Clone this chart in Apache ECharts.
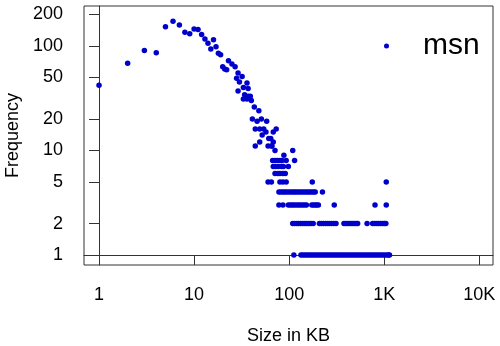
<!DOCTYPE html>
<html>
<head>
<meta charset="utf-8">
<script src="https://cdn.jsdelivr.net/npm/echarts/dist/echarts.min.js"></script>
<style>
  html, body { margin: 0; padding: 0; background: #fff; }
  #chart { width: 500px; height: 346px; }
</style>
</head>
<body>
<div id="chart"></div>
<script>
// file sizes (KB) with higher counts, and their counts
const headSize = [1, 2, 3, 4, 5, 6, 7, 8, 9, 10, 11, 12, 13, 14, 15, 16, 17, 18, 19, 20,
  21, 22, 23, 25, 27, 28, 29, 30, 32, 33, 34, 36, 37, 29, 33, 36, 37, 39, 40, 43,
  48, 41, 46, 51, 58, 44, 49, 54, 73, 57, 68, 52, 61, 64, 68, 44, 49, 60, 65, 66,
  71, 109, 88];
const headFreq = [42, 68, 90, 86, 152, 172, 158, 135, 130, 145, 143, 128, 116, 106, 93, 114, 98, 85, 82, 63,
  60, 59, 72, 67, 63, 49, 55, 45, 51, 40, 34, 44, 39, 37, 31, 31, 33, 33, 30, 26,
  24, 20, 19, 20, 19, 16, 16, 16, 16, 15, 15, 14, 13, 13, 12, 11, 12, 11, 11, 11,
  10, 10, 9];

// sizes (KB) seen a small number of times
const sizesFreq8 = [67, 71, 75, 80, 84, 93, 114];
const sizesFreq7 = [68, 72, 77, 83, 87, 98];
const sizesFreq6 = [71, 76, 80, 86, 91];
const sizesFreq5 = [60, 65, 80, 86, 93, 175, 1050];
const sizesFreq4 = [78, 82, 86, 90, 94, 99, 104, 109, 114, 119, 125, 131, 137, 144, 151, 158, 165, 173, 181, 188, 224];
const sizesFreq3 = [78, 86, 98, 103, 108, 113, 119, 125, 131, 138, 145, 152, 173, 180, 188, 195, 203, 298, 800, 1050];
const sizesFreq2 = [109, 114, 120, 126, 132, 139, 146, 153, 161, 170, 179,
  208, 218, 229, 241, 253, 266, 280, 295, 311,
  377, 396, 416, 437, 459, 482, 505, 525, 660,
  755, 793, 833, 875, 919, 966, 1005, 1040];
const sizesFreq1 = [112, 133, 139, 146, 153, 161, 169, 177, 186, 195, 205, 215, 226, 237, 249, 261,
  274, 288, 302, 317, 333, 350, 367, 385, 404, 424, 445, 467, 490, 515, 540, 567, 595,
  625, 656, 689, 723, 759, 797, 837, 879, 923, 969, 1017, 1068, 1110, 1135];

const xTicks = [1, 10, 100, 1000, 10000];
const yTicks = [1, 2, 5, 10, 20, 50, 100, 200];
const xRange = [0.695, 13930];
const yRange = [0.803, 240];

// both axes are drawn in log10 units
const lg = Math.log10;
const points = [];
headSize.forEach((s, i) => points.push([lg(s), lg(headFreq[i])]));
[[8, sizesFreq8], [7, sizesFreq7], [6, sizesFreq6], [5, sizesFreq5],
 [4, sizesFreq4], [3, sizesFreq3], [2, sizesFreq2], [1, sizesFreq1]].forEach(([f, arr]) => {
  arr.forEach(s => points.push([lg(s), lg(f)]));
});

function fmt(v) {
  const n = Math.round(Math.pow(10, v));
  return n >= 1000 ? (n / 1000) + 'K' : String(n);
}

const chart = echarts.init(document.getElementById('chart'));
const font = 'Liberation Sans, Arial, Helvetica, sans-serif';
const tickStyle = { color: '#333', width: 1 };

chart.setOption({
  animation: false,
  textStyle: { fontFamily: font },
  grid: {
    left: 84, right: 7, top: 6, bottom: 81,
    containLabel: false,
    outerBoundsMode: 'none',
    show: true,
    borderColor: '#333',
    borderWidth: 1,
  },
  legend: {
    data: ['msn'],
    icon: 'circle',
    itemWidth: 5,
    itemHeight: 5,
    left: 379,
    top: 26,
    textStyle: { fontSize: 30, color: '#000', fontFamily: font, padding: [0, 0, 14, 29] },
  },
  xAxis: {
    type: 'value',
    min: lg(xRange[0]),
    max: lg(xRange[1]),
    name: 'Size in KB',
    nameLocation: 'middle',
    nameGap: 62,
    nameTextStyle: { fontSize: 18, color: '#000', fontFamily: font },
    axisLine: { show: true, lineStyle: tickStyle },
    splitLine: { show: false },
    axisTick: { show: true, length: 10, customValues: xTicks.map(lg), lineStyle: tickStyle },
    axisLabel: {
      customValues: xTicks.map(lg),
      fontSize: 18, color: '#000', margin: 21,
      formatter: fmt,
    },
  },
  yAxis: {
    type: 'value',
    min: lg(yRange[0]),
    max: lg(yRange[1]),
    name: 'Frequency',
    nameLocation: 'middle',
    nameGap: 60,
    nameTextStyle: { fontSize: 18, color: '#000', fontFamily: font },
    axisLine: { show: true, lineStyle: tickStyle },
    splitLine: { show: false },
    axisTick: { show: true, length: 10, customValues: yTicks.map(lg), lineStyle: tickStyle },
    axisLabel: { customValues: yTicks.map(lg), fontSize: 18, color: '#000', margin: 21, formatter: fmt },
  },
  series: [
    {
      name: 'msn',
      type: 'scatter',
      symbol: 'circle',
      symbolSize: 5.5,
      itemStyle: { color: '#0000CD', opacity: 1 },
      data: points,
    },
  ],
});
</script>
</body>
</html>
